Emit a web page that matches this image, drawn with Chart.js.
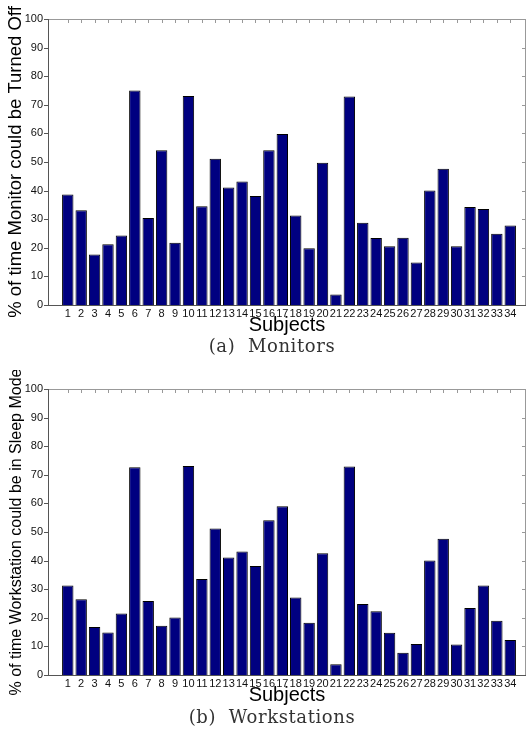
<!DOCTYPE html>
<html>
<head>
<meta charset="utf-8">
<script src="https://cdn.jsdelivr.net/npm/chart.js@4/dist/chart.umd.min.js"></script>
<style>
  html, body { margin: 0; padding: 0; background: #fff; overflow: hidden; }
  body { width: 527px; height: 737px; position: relative; }
  canvas { position: absolute; left: 0; }
  #c1 { top: 0; }
  #c2 { top: 370px; }
  .cap {
    position: absolute; left: 0; width: 544px; text-align: center;
    font-family: "DejaVu Serif", serif; font-size: 18px; color: #333;
    letter-spacing: 0.6px; line-height: 20px;
  }
  #capA { top: 336px; }
  #capB { top: 707px; }
</style>
</head>
<body>
<canvas id="c1" width="527" height="345"></canvas>
<canvas id="c2" width="527" height="345"></canvas>
<div class="cap" id="capA">(a)&nbsp;&nbsp;Monitors</div>
<div class="cap" id="capB">(b)&nbsp;&nbsp;Workstations</div>
<script>
// subject ids on the x axis
var subjects = [1,2,3,4,5,6,7,8,9,10,11,12,13,14,15,16,17,18,19,20,21,22,23,24,25,26,27,28,29,30,31,32,33,34];

// (a) % of time monitor could be turned off
var monitorPct = [38.6,33.1,17.7,21.2,24.3,75.0,30.4,54.1,21.8,73.1,34.5,51.1,41.1,43.2,38.1,54.1,
                  59.8,31.3,19.8,49.7,3.7,72.9,28.8,23.4,20.5,23.5,14.9,40.0,47.6,20.5,34.3,33.6,24.9,27.8];

// (b) % of time workstation could be in sleep mode
var workstationPct = [31.3,26.5,16.8,14.9,21.5,72.6,25.9,17.2,20.1,73.1,33.6,51.2,41.1,43.2,38.1,54.1,
                      59.0,27.1,18.3,42.6,3.8,72.9,24.8,22.3,14.8,7.8,10.8,40.0,47.6,10.7,23.4,31.3,19.0,12.2];

var yTicks = [0,10,20,30,40,50,60,70,80,90,100];

var FONT = "'Liberation Sans', Arial, sans-serif";

// draws the matlab style box + little tick marks
var boxPlugin = {
  id: 'box',
  afterDraw: function(chart) {
    var ctx = chart.ctx, a = chart.chartArea;
    var xs = chart.scales.x, ys = chart.scales.y;
    ctx.save();
    ctx.lineWidth = 1;
    ctx.strokeStyle = '#999';
    ctx.beginPath();
    ctx.moveTo(a.left, a.top + 0.5); ctx.lineTo(a.right, a.top + 0.5);
    ctx.moveTo(a.right - 0.5, a.top); ctx.lineTo(a.right - 0.5, a.bottom);
    ctx.stroke();
    // top ticks (inward)
    ctx.beginPath();
    subjects.forEach(function(s) {
      var px = Math.round(xs.getPixelForValue(s)) + 0.5;
      ctx.moveTo(px, a.top); ctx.lineTo(px, a.top + 4);
    });
    // right ticks (inward)
    yTicks.forEach(function(t) {
      var py = Math.round(ys.getPixelForValue(t)) + 0.5;
      ctx.moveTo(a.right, py); ctx.lineTo(a.right - 4, py);
    });
    ctx.stroke();
    ctx.strokeStyle = '#555';
    ctx.beginPath();
    ctx.moveTo(a.left + 0.5, a.top); ctx.lineTo(a.left + 0.5, a.bottom);
    ctx.moveTo(a.left, a.bottom + 0.5); ctx.lineTo(a.right, a.bottom + 0.5);
    yTicks.forEach(function(t) {
      var py = Math.round(ys.getPixelForValue(t)) + 0.5;
      ctx.moveTo(a.left, py); ctx.lineTo(a.left - 4, py);
    });
    ctx.stroke();
    ctx.restore();
  }
};

function makeChart(id, values, yTitle, yTitleSize, yTitlePad) {
  var pts = subjects.map(function(s, i) { return { x: s, y: values[i] }; });
  return new Chart(document.getElementById(id), {
    type: 'bar',
    data: {
      datasets: [{
        data: pts,
        backgroundColor: '#000080',
        borderColor: '#000',
        borderWidth: 1,
        barPercentage: 0.85,
        categoryPercentage: 1
      }]
    },
    options: {
      responsive: false,
      animation: false,
      devicePixelRatio: 1,
      layout: { padding: { top: 19, right: 1, left: 0, bottom: 0 } },
      plugins: { legend: { display: false }, tooltip: { enabled: false } },
      scales: {
        x: {
          type: 'linear',
          min: 0.05,
          max: 34.65,
          grid: { display: false, drawTicks: false },
          border: { display: false },
          afterBuildTicks: function(s) { s.ticks = subjects.map(function(v) { return { value: v }; }); },
          afterFit: function(s) { s.height = 40; },
          ticks: {
            autoSkip: false, maxRotation: 0, padding: 2,
            color: '#111', font: { family: FONT, size: 11 },
            callback: function(v) { return String(v); }
          },
          title: {
            display: true, text: 'Subjects', color: '#000',
            font: { family: FONT, size: 20, lineHeight: 1 },
            padding: { top: 0, bottom: 10 }
          }
        },
        y: {
          min: 0, max: 100,
          grid: { display: false, drawTicks: false },
          border: { display: false },
          afterBuildTicks: function(s) { s.ticks = yTicks.map(function(v) { return { value: v }; }); },
          afterFit: function(s) { s.width = 48; },
          ticks: { padding: 5, color: '#111', font: { family: FONT, size: 11 } },
          title: {
            display: true, text: yTitle, color: '#000',
            font: { family: FONT, size: yTitleSize, lineHeight: 1 },
            padding: { top: yTitlePad, bottom: 0 }
          }
        }
      }
    },
    plugins: [boxPlugin]
  });
}

makeChart('c1', monitorPct, '% of time Monitor could be Turned Off', 18.5, 7);
makeChart('c2', workstationPct, '% of time Workstation could be in Sleep Mode', 16, 9);
</script>
</body>
</html>
